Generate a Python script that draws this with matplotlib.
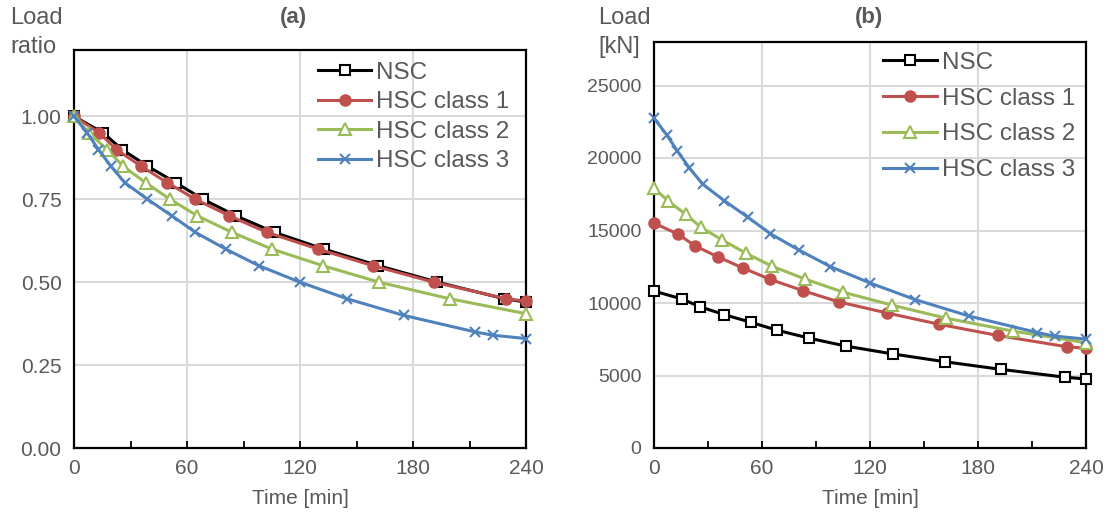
import matplotlib
matplotlib.use("Agg")
import matplotlib.pyplot as plt
from matplotlib.ticker import MultipleLocator, FormatStrFormatter

plt.rcParams['font.family'] = ['Liberation Sans', 'DejaVu Sans']

# time [min] at which each load step is reached
t_nsc = [0, 15.5, 25.5, 39, 54, 68.5, 86, 106.5, 132.5, 161.5, 193, 228.5, 240]
t_hsc1 = [0, 13.5, 22.5, 35.5, 49.5, 64.5, 82.5, 102.5, 129.5, 158.5, 191, 229.5, 240]
t_hsc2 = [0, 8, 17.5, 26, 38, 51, 65.5, 84, 105, 132, 162, 199.5, 240]
t_hsc3 = [0, 7, 13, 19.5, 27, 39, 52, 64.5, 80.5, 98, 120, 145, 175, 213, 222.5, 240]

# (a) load ratio
r_nsc = [1.00, 0.95, 0.90, 0.85, 0.80, 0.75, 0.70, 0.65, 0.60, 0.55, 0.50, 0.45, 0.44]
r_hsc1 = [1.00, 0.95, 0.90, 0.85, 0.80, 0.75, 0.70, 0.65, 0.60, 0.55, 0.50, 0.45, 0.443]
r_hsc2 = [1.00, 0.95, 0.90, 0.85, 0.80, 0.75, 0.70, 0.65, 0.60, 0.55, 0.50, 0.45, 0.405]
r_hsc3 = [1.00, 0.95, 0.90, 0.85, 0.80, 0.75, 0.70, 0.65, 0.60, 0.55, 0.50, 0.45, 0.40, 0.35, 0.34, 0.33]

# (b) load [kN]
p_nsc = [10820, 10280, 9740, 9200, 8660, 8120, 7580, 7030, 6490, 5950, 5420, 4880, 4760]
p_hsc1 = [15510, 14740, 13960, 13180, 12410, 11630, 10860, 10080, 9310, 8530, 7760, 6980, 6880]
p_hsc2 = [17920, 17020, 16130, 15230, 14340, 13440, 12540, 11650, 10750, 9860, 8960, 8060, 7260]
p_hsc3 = [22750, 21610, 20480, 19340, 18200, 17060, 15930, 14790, 13650, 12510, 11380, 10240,
          9100, 7960, 7720, 7510]

labels = ['NSC', 'HSC class 1', 'HSC class 2', 'HSC class 3']
styles = [
    dict(color='black', marker='s', mfc='white', mec='black', ms=7, mew=1.5),
    dict(color='#C0504D', marker='o', mfc='#C0504D', mec='#C0504D', ms=8),
    dict(color='#9BBB59', marker='^', mfc='white', mec='#9BBB59', ms=9, mew=1.5),
    dict(color='#4F81BD', marker='x', mec='#4F81BD', ms=7, mew=1.5),
]
gray = '#595959'

fig = plt.figure(figsize=(11.1, 5.22), dpi=100)
ax1 = fig.add_axes([74 / 1110, 1 - 448 / 522, 452 / 1110, 398 / 522])
ax2 = fig.add_axes([654 / 1110, 1 - 448 / 522, 432 / 1110, 406 / 522])


def style_axes(ax, ysize):
    ax.set_xlim(0, 240)
    ax.xaxis.set_major_locator(MultipleLocator(60))
    ax.xaxis.set_minor_locator(MultipleLocator(30))
    ax.tick_params(axis='x', which='both', direction='in', length=5, width=1.3,
                   labelsize=15, labelcolor=gray, pad=8)
    ax.tick_params(axis='y', length=0, labelsize=ysize, labelcolor=gray, pad=9)
    ax.grid(True, which='major', color='#D9D9D9', lw=1.5)
    ax.set_axisbelow(True)
    for s in ax.spines.values():
        s.set_linewidth(1.6)
        s.set_color('black')
    ax.set_xlabel('Time [min]', fontsize=15, color=gray, labelpad=8)


for t, v, lab, st in zip([t_nsc, t_hsc1, t_hsc2, t_hsc3], [r_nsc, r_hsc1, r_hsc2, r_hsc3], labels, styles):
    ax1.plot(t, v, lw=2.2, label=lab, clip_on=False, zorder=3, **st)
ax1.set_ylim(0, 1.2)
ax1.yaxis.set_major_formatter(FormatStrFormatter('%.2f'))
style_axes(ax1, 15)
ax1.set_yticks([0, 0.25, 0.5, 0.75, 1.0])
ax1.legend(loc='upper left', bbox_to_anchor=(0.518, 0.995), frameon=False, fontsize=17.5,
           handlelength=2.2, handletextpad=0.2, labelspacing=0.31, labelcolor=gray,
           borderaxespad=0)

for t, v, lab, st in zip([t_nsc, t_hsc1, t_hsc2, t_hsc3], [p_nsc, p_hsc1, p_hsc2, p_hsc3], labels, styles):
    ax2.plot(t, v, lw=2.2, label=lab, clip_on=False, zorder=3, **st)
ax2.set_ylim(0, 28000)
ax2.set_yticks([0, 5000, 10000, 15000, 20000, 25000])
style_axes(ax2, 14)
ax2.legend(loc='upper left', bbox_to_anchor=(0.508, 1.0), frameon=False, fontsize=17.5,
           handlelength=2.2, handletextpad=0.2, labelspacing=0.57, labelcolor=gray,
           borderaxespad=0)

fig.text(10 / 1110, 1 - 18 / 522, 'Load', fontsize=17, color=gray, va='center')
fig.text(10 / 1110, 1 - 47 / 522, 'ratio', fontsize=17, color=gray, va='center')
fig.text(293 / 1110, 1 - 18 / 522, '(a)', fontsize=16, color=gray, weight='bold', ha='center', va='center')
fig.text(598 / 1110, 1 - 18 / 522, 'Load', fontsize=17, color=gray, va='center')
fig.text(598 / 1110, 1 - 47 / 522, '[kN]', fontsize=17, color=gray, va='center')
fig.text(869 / 1110, 1 - 18 / 522, '(b)', fontsize=16, color=gray, weight='bold', ha='center', va='center')

fig.savefig('out.png', dpi=100)
